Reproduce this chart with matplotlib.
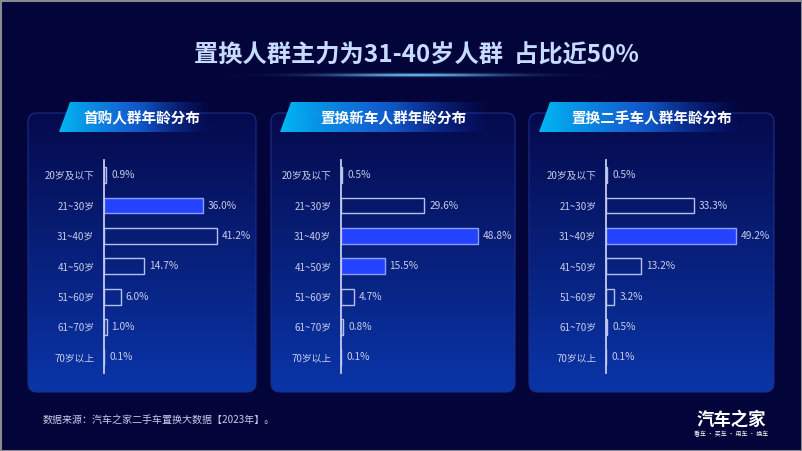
import numpy as np
import matplotlib
matplotlib.use("Agg")
import matplotlib.pyplot as plt
from matplotlib.patches import FancyBboxPatch, Polygon, Rectangle
from matplotlib.colors import to_rgb

plt.rcParams['font.family'] = ['Noto Sans CJK SC', 'DejaVu Sans']

# data
ages = ['20岁及以下', '21~30岁', '31~40岁', '41~50岁', '51~60岁', '61~70岁', '70岁以上']
first_buy = [0.9, 36.0, 41.2, 14.7, 6.0, 1.0, 0.1]
swap_new = [0.5, 29.6, 48.8, 15.5, 4.7, 0.8, 0.1]
swap_used = [0.5, 33.3, 49.2, 13.2, 3.2, 0.5, 0.1]
panel_titles = ['首购人群年龄分布', '置换新车人群年龄分布', '置换二手车人群年龄分布']
highlights = [[1], [2, 3], [2]]
main_title = '置换人群主力为31-40岁人群  占比近50%'
source_note = '数据来源：汽车之家二手车置换大数据【2023年】。'

W, H = 802, 451
BG = '#03043a'
TXT = '#c8cdea'

fig = plt.figure(figsize=(W / 100, H / 100), dpi=100, facecolor=BG)

# decoration layer in pixel coords
deco = fig.add_axes([0, 0, 1, 1], zorder=0)
deco.set_xlim(0, W)
deco.set_ylim(H, 0)
deco.axis('off')
deco.set_facecolor(BG)


def vgrad(c_top, c_bot, n=256):
    a, b = np.array(to_rgb(c_top)), np.array(to_rgb(c_bot))
    t = np.linspace(0, 1, n)[:, None]
    return (a * (1 - t) + b * t)[:, None, :]


# panels: (left, right) in px, top/bottom shared
panel_x = [(28, 256), (271, 515), (529, 774)]
p_top, p_bot = 113, 392
for x0, x1 in panel_x:
    box = FancyBboxPatch((x0, p_top), x1 - x0, p_bot - p_top,
                         boxstyle='round,pad=0,rounding_size=9',
                         fc='none', ec='#1b2f8a', lw=0.8, zorder=2)
    deco.add_patch(box)
    im = deco.imshow(vgrad('#050a4c', '#0a35a8'), extent=[x0, x1, p_bot, p_top],
                     aspect='auto', zorder=1)
    im.set_clip_path(box)

# banners
banner_x = [(59, 212), (280, 490), (539, 742)]
title_cx = [142, 393, 652]
for (bx0, bx1), cx, t in zip(banner_x, title_cx, panel_titles):
    poly = Polygon([(bx0, 132), (bx0 + 11, 102), (bx1, 102), (bx1, 132)],
                   closed=True, fc='none', ec='none', zorder=3)
    deco.add_patch(poly)
    n = 256
    s = np.linspace(0, 1, n)
    cols = np.array([to_rgb('#00b8f4'), to_rgb('#1470e6'), to_rgb('#0a2aa8')])
    rgba = np.empty((n, 4))
    for k in range(3):
        rgba[:, k] = np.interp(s, [0, 0.45, 1], cols[:, k])
    rgba[:, 3] = np.interp(s, [0, 0.55, 1], [1, 0.85, 0])
    im = deco.imshow(rgba[None, :, :], extent=[bx0, bx1, 132, 102], aspect='auto', zorder=3)
    im.set_clip_path(poly)
    deco.text(cx, 118, t, color='white', fontsize=10.5, fontweight='bold',
              ha='center', va='center', zorder=4)

# title glow
gx = np.linspace(-1, 1, 400)
gy = np.linspace(-1, 1, 30)
glow = np.exp(-(gx[None, :] / 0.45) ** 2) * np.exp(-(gy[:, None] / 0.3) ** 2)
gimg = np.zeros((30, 400, 4))
gimg[..., 0], gimg[..., 1], gimg[..., 2] = 0.45, 0.8, 1.0
gimg[..., 3] = glow
deco.imshow(gimg, extent=[220, 612, 80, 70], aspect='auto', zorder=1)

deco.text(416, 55, main_title, color='#c6dbff', fontsize=17.5, fontweight='bold',
          ha='center', va='center', zorder=4)

# footer
deco.text(43, 420, source_note, color=TXT, fontsize=7.2, ha='left', va='center')
deco.text(731, 420, '汽车之家', color='white', fontsize=12.5, fontweight='bold',
          ha='center', va='center')
deco.text(731, 434, '看车 · 买车 · 用车 · 换车', color='white', fontsize=4.3,
          ha='center', va='center')

# outer frame
deco.add_patch(Rectangle((0.5, 0.5), W - 1, H - 1, fc='none', ec='#8a8a8e', lw=1.5, zorder=6))

# charts
axis_x = [104, 341, 606]
px_per = [2.75, 2.81, 2.64]
ax_w = 150
y_top, y_bot = 160, 372.5
for series, hl, x0, sc in zip([first_buy, swap_new, swap_used], highlights, axis_x, px_per):
    ax = fig.add_axes([x0 / W, 1 - y_bot / H, ax_w / W, (y_bot - y_top) / H], zorder=5)
    ax.patch.set_alpha(0)
    pos = np.arange(len(ages))
    fcs = ['#2343ff' if i in hl else 'none' for i in pos]
    ecs = ['#8e9cff' if i in hl else '#b7bff0' for i in pos]
    ax.barh(pos, series, height=0.52, color=fcs, edgecolor=ecs, linewidth=1.0)
    for i, v in enumerate(series):
        ax.annotate(f'{v:.1f}%', (v, i), xytext=(3.5, 0), textcoords='offset points',
                    color=TXT, fontsize=7.3, ha='left', va='center')
    ax.set_xlim(0, ax_w / sc)
    ax.set_ylim(len(ages) - 0.5, -0.5)
    ax.set_yticks(pos)
    ax.set_yticklabels(ages)
    ax.set_xticks([])
    ax.tick_params(axis='y', length=0, pad=7, labelsize=7, labelcolor=TXT)
    for s in ['top', 'right', 'bottom']:
        ax.spines[s].set_visible(False)
    ax.spines['left'].set_color('#c4cbf0')
    ax.spines['left'].set_linewidth(1.3)

fig.savefig('out.png', dpi=100, facecolor=BG)
